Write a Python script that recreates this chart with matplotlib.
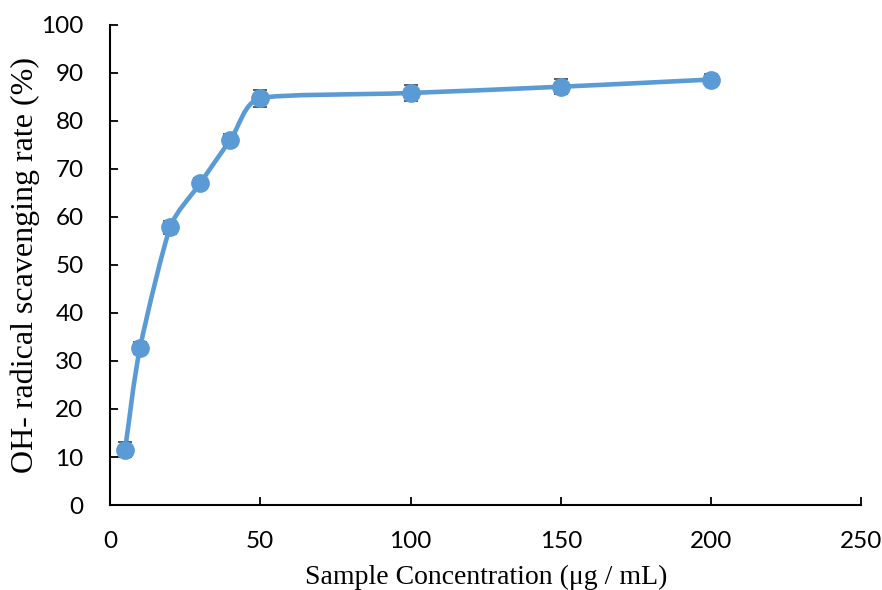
import numpy as np
import matplotlib
matplotlib.use("Agg")
import matplotlib.pyplot as plt
from matplotlib.path import Path
from matplotlib.patches import PathPatch

conc = [5, 10, 20, 30, 40, 50, 100, 150, 200]
rate = [11.5, 32.7, 57.8, 67.0, 76.0, 84.7, 85.8, 87.1, 88.6]
err = [1.6, 1.3, 1.3, 1.0, 1.2, 1.8, 1.6, 1.6, 1.2]
xticks = [0, 50, 100, 150, 200, 250]
yticks = list(range(0, 101, 10))

BLUE = "#5B9BD5"
SX, SY = 3.0, 4.8   # rough px per data unit, only used to shape the smoothing


def smooth_path(x, y):
    # Excel-like smoothed line: cubic Bezier through the points
    p = np.column_stack([np.asarray(x) * SX, np.asarray(y) * SY]).astype(float)
    n = len(p)
    seg = np.linalg.norm(np.diff(p, axis=0), axis=1)
    tang, hand = [], []
    for i in range(n):
        d = p[min(i + 1, n - 1)] - p[max(i - 1, 0)]
        tang.append(d / np.linalg.norm(d))
        near = [seg[j] for j in (i - 1, i) if 0 <= j < n - 1]
        hand.append(min(near) / 3)
    verts = [p[0]]
    codes = [Path.MOVETO]
    for i in range(n - 1):
        verts += [p[i] + tang[i] * hand[i], p[i + 1] - tang[i + 1] * hand[i + 1], p[i + 1]]
        codes += [Path.CURVE4] * 3
    verts = np.array(verts) / [SX, SY]
    return Path(verts, codes)


fig = plt.figure(figsize=(8.82, 5.90), dpi=100)
ax = fig.add_axes([0.1247, 0.144, 0.852, 0.814])

ax.add_patch(PathPatch(smooth_path(conc, rate), facecolor="none",
                       edgecolor=BLUE, lw=3.3, zorder=2, capstyle="round"))
ax.errorbar(conc, rate, yerr=err, fmt="o", color=BLUE, ms=12.5,
            ecolor="#404040", elinewidth=1.0, capsize=5, capthick=1.2, zorder=3)

ax.set_xlim(0, 250)
ax.set_ylim(0, 100)
ax.set_xticks(xticks)
ax.set_yticks(yticks)
for s in ["top", "right"]:
    ax.spines[s].set_visible(False)
for s in ["left", "bottom"]:
    ax.spines[s].set_linewidth(1.5)
ax.tick_params(axis="both", direction="in", length=6, width=1.3, pad=19)
for lab in ax.get_xticklabels() + ax.get_yticklabels():
    lab.set_fontfamily("Lato")
    lab.set_fontsize(17.5)

ax.set_xlabel("Sample Concentration (μg / mL)", family="Liberation Serif",
              fontsize=20)
ax.set_ylabel("OH- radical scavenging rate (%)", family="Liberation Serif",
              fontsize=23)
ax.xaxis.set_label_coords(0.5, -0.125)
ax.yaxis.set_label_coords(-0.093, 0.5)

fig.savefig("out.png", dpi=100)
